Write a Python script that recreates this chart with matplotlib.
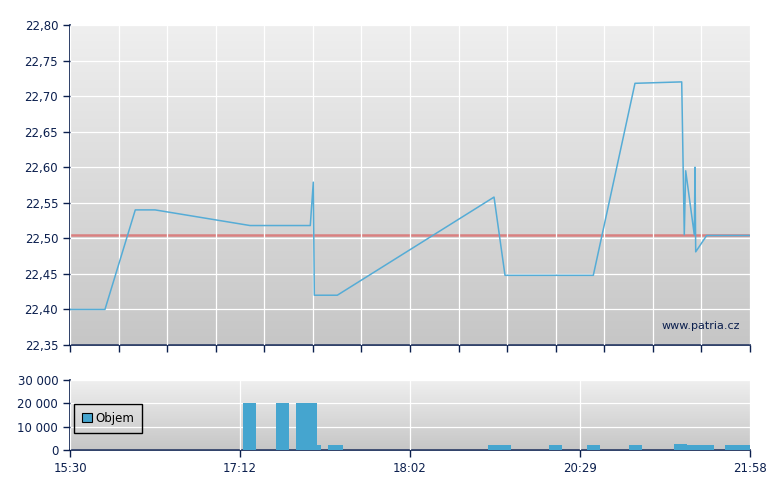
import matplotlib
matplotlib.use("Agg")
import matplotlib.pyplot as plt
from matplotlib.ticker import FuncFormatter
import numpy as np

# price line (x in grid steps from session start, 0..14)
price_x = [0, 0.72, 1.344, 1.75, 3.706, 4.947, 5.009, 5.03, 5.503, 8.73, 8.956,
           10.774, 11.632, 12.594, 12.647, 12.676, 12.853, 12.868, 12.882, 13.108, 14]
price_y = [22.40, 22.40, 22.54, 22.54, 22.518, 22.518, 22.579, 22.42, 22.42, 22.558, 22.448,
           22.448, 22.718, 22.72, 22.505, 22.595, 22.505, 22.60, 22.481, 22.504, 22.504]
prev_close = 22.504

# volume bars: start, end, volume
vol_start = [3.568, 4.241, 4.653, 5.079, 5.312, 8.606, 9.862, 10.644, 11.508, 12.44, 12.71, 13.49]
vol_end = [3.829, 4.502, 5.079, 5.161, 5.614, 9.079, 10.129, 10.912, 11.776, 12.71, 13.26, 14.0]
vol_vals = [20000, 20000, 20000, 2000, 2000, 2000, 2000, 2000, 2000, 2600, 2000, 2000]

time_ticks = [0, 3.5, 7, 10.5, 14]
time_labels = ["15:30", "17:12", "18:02", "20:29", "21:58"]

navy = "#0b1f4e"
line_col = "#55acd6"
bar_col = "#45a5cf"

W, H = 780, 490
fig = plt.figure(figsize=(7.8, 4.9), dpi=100)
ax1 = fig.add_axes([70 / W, 1 - 345 / H, 680 / W, 320 / H])
ax2 = fig.add_axes([70 / W, 1 - 450 / H, 680 / W, 70 / H])

grad = np.linspace(0, 1, 256).reshape(-1, 1)
cmap = matplotlib.colors.LinearSegmentedColormap.from_list("g", ["#efefef", "#c6c6c6"])
for ax in (ax1, ax2):
    ax.imshow(grad, aspect="auto", cmap=cmap, extent=[0, 1, 0, 1],
              transform=ax.transAxes, zorder=0)
    ax.set_xlim(0, 14)
    for s in ("top", "right"):
        ax.spines[s].set_visible(False)
    for s in ("left", "bottom"):
        ax.spines[s].set_color(navy)
        ax.spines[s].set_linewidth(1.2)
    ax.tick_params(colors=navy, labelcolor=navy, labelsize=8.5, direction="out", length=5, width=1)
    ax.set_axisbelow(False)

# price chart
ax1.set_ylim(22.35, 22.80)
ax1.set_yticks(np.arange(22.35, 22.801, 0.05))
ax1.yaxis.set_major_formatter(FuncFormatter(lambda v, p: f"{v:.2f}".replace(".", ",")))
ax1.set_xticks(range(15))
ax1.set_xticklabels([])
ax1.grid(True, color="white", linewidth=0.9, zorder=1)
ax1.axhline(prev_close, color="#d98080", linewidth=1.8, zorder=2)
ax1.plot(price_x, price_y, color=line_col, linewidth=1.1, zorder=3)
ax1.text(0.985, 0.06, "www.patria.cz", transform=ax1.transAxes, ha="right", va="center",
         color=navy, fontsize=8)

# volume chart
ax2.set_ylim(0, 30000)
ax2.set_yticks([0, 10000, 20000, 30000])
ax2.yaxis.set_major_formatter(FuncFormatter(lambda v, p: f"{int(v):,}".replace(",", " ")))
ax2.set_xticks(time_ticks)
ax2.set_xticklabels(time_labels)
ax2.grid(True, color="white", linewidth=0.9, zorder=1)
widths = [e - s for s, e in zip(vol_start, vol_end)]
ax2.bar(vol_start, vol_vals, width=widths, align="edge", color=bar_col, zorder=3, label="Objem")
leg = ax2.legend(loc="center left", bbox_to_anchor=(-0.003, 0.45), fancybox=False, framealpha=1,
                 facecolor="none", edgecolor="black", fontsize=8.5, handlelength=0.8,
                 handleheight=0.8, handletextpad=0.3, borderpad=0.7, borderaxespad=0.5)
leg.get_frame().set_linewidth(1)
for h in leg.legend_handles:
    h.set_edgecolor("black")
    h.set_linewidth(0.8)

fig.savefig("out.png", dpi=100)
